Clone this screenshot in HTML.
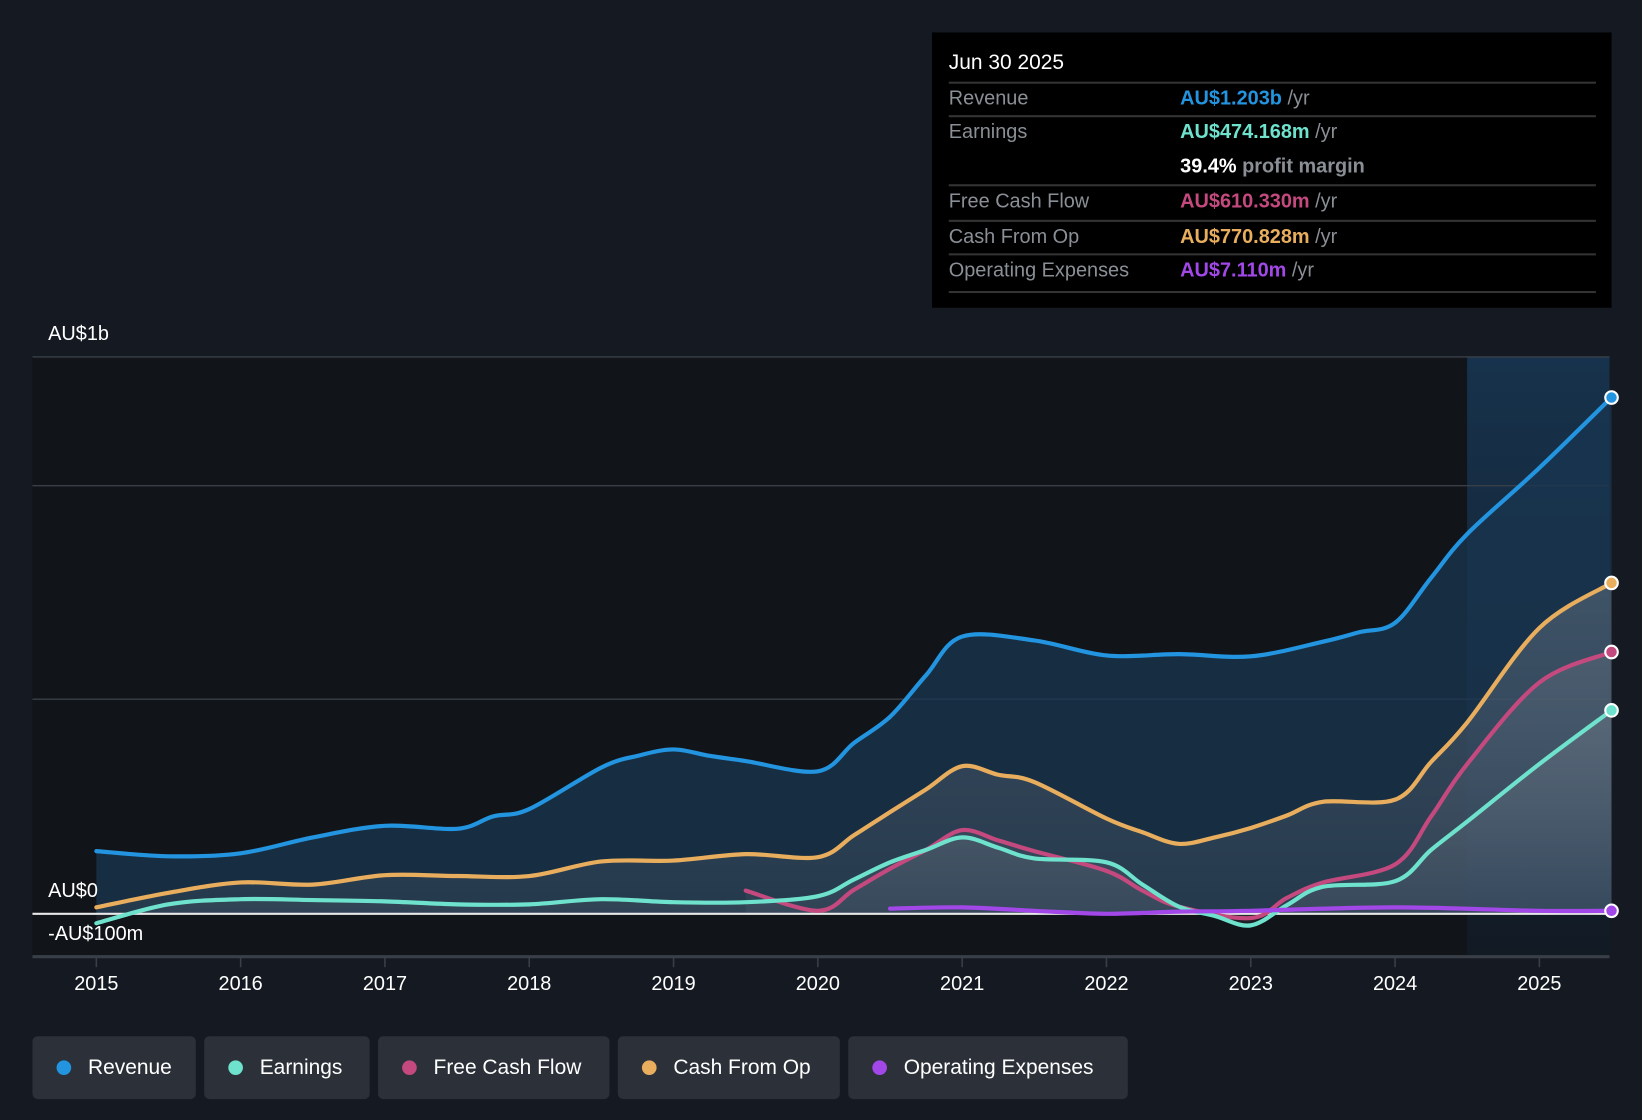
<!DOCTYPE html>
<html><head><meta charset="utf-8"><style>
html,body{margin:0;padding:0;background:#151a22;overflow:hidden}
#wrap{width:1568px;height:1070px;transform:scale(1.04719,1.04673);transform-origin:0 0;position:relative;font-family:"Liberation Sans",sans-serif}
.tt{position:absolute;left:890px;top:31px;width:649px;height:263px;background:#000}
.tt .d{position:absolute;left:16px;top:18px;color:#fff;font-size:20px}
.row{position:absolute;left:16px;width:618px;border-top:2px solid #333;font-size:19px;color:#8a8f96}
.row span.l{position:absolute;left:0}
.row span.v{position:absolute;left:221px;font-weight:bold}
.row span.u{color:#8a8f96;font-weight:normal}
.leg{position:absolute;top:990px;height:60px;background:#2b3039;border-radius:5px;color:#fff;font-size:20px;line-height:60px;box-sizing:border-box;padding-left:53px}
.leg i{position:absolute;left:23px;top:23px;width:14px;height:14px;border-radius:50%}
</style></head><body><div id="wrap">
<svg id="svg" width="1568" height="1070" style="position:absolute;left:0;top:0"></svg>
<div class="tt">
<div class="d">Jun 30 2025</div>
<div class="row" style="top:47px;height:32px"><span class="l" style="top:4px">Revenue</span><span class="v" style="top:4px;color:#2394df">AU$1.203b <span class="u">/yr</span></span></div>
<div class="row" style="top:79px;height:64px"><span class="l" style="top:4px">Earnings</span><span class="v" style="top:4px;color:#6ee2cc">AU$474.168m <span class="u">/yr</span></span><span class="v" style="top:37px;color:#fff">39.4% <span class="u" style="font-weight:bold">profit margin</span></span></div>
<div class="row" style="top:145px;height:32px"><span class="l" style="top:4px">Free Cash Flow</span><span class="v" style="top:4px;color:#c4497e">AU$610.330m <span class="u">/yr</span></span></div>
<div class="row" style="top:179px;height:32px"><span class="l" style="top:4px">Cash From Op</span><span class="v" style="top:4px;color:#e8ae5e">AU$770.828m <span class="u">/yr</span></span></div>
<div class="row" style="top:211px;height:34px;border-bottom:2px solid #333"><span class="l" style="top:4px">Operating Expenses</span><span class="v" style="top:4px;color:#a247e8">AU$7.110m <span class="u">/yr</span></span></div>
</div>
<div class="leg" style="left:31px;width:156px"><i style="background:#2394df"></i>Revenue</div>
<div class="leg" style="left:195px;width:158px"><i style="background:#6ee2cc"></i>Earnings</div>
<div class="leg" style="left:361px;width:221px"><i style="background:#c4497e"></i>Free Cash Flow</div>
<div class="leg" style="left:590px;width:212px"><i style="background:#e8ae5e"></i>Cash From Op</div>
<div class="leg" style="left:810px;width:267px"><i style="background:#a247e8"></i>Operating Expenses</div>
</div>
<script>
const revT=[2015,2015.5,2016,2016.5,2017,2017.5,2017.75,2018,2018.5,2018.75,2019,2019.25,2019.5,2020,2020.25,2020.5,2020.75,2021,2021.5,2022,2022.5,2023,2023.5,2023.75,2024,2024.25,2024.5,2025,2025.5];
const revV=[146,134,141,178,205,198,227,244,341,368,383,368,356,332,398,459,556,646,637,602,605,600,634,656,678,783,885,1039,1203];
const cfoT=[2015,2015.5,2016,2016.5,2017,2017.5,2018,2018.5,2019,2019.5,2020,2020.25,2020.5,2020.75,2021,2021.25,2021.5,2022,2022.25,2022.5,2022.75,2023,2023.25,2023.5,2024,2024.25,2024.5,2025,2025.5];
const cfoV=[15,49,73,68,90,88,88,122,124,139,132,183,237,290,344,324,307,222,190,163,178,200,229,261,266,354,446,666,771];
const earnT=[2015,2015.5,2016,2016.5,2017,2017.5,2018,2018.5,2019,2019.5,2020,2020.25,2020.5,2020.75,2021,2021.25,2021.5,2022,2022.25,2022.5,2022.75,2023,2023.25,2023.5,2024,2024.25,2024.5,2025,2025.5];
const earnV=[-22,22,34,32,29,22,22,34,27,27,41,80,120,149,178,154,129,120,68,17,-5,-27,20,63,76,149,215,349,474];
const fcfT=[2019.5,2020,2020.25,2020.5,2020.75,2021,2021.25,2021.5,2022,2022.25,2022.5,2023,2023.25,2023.5,2024,2024.25,2024.5,2025,2025.5];
const fcfV=[54,7,56,105,149,195,171,146,100,54,17,-10,37,73,115,227,349,539,610];
const opxT=[2020.5,2021,2021.5,2022,2022.5,2023,2024,2025,2025.5];
const opxV=[12,15,7,0,5,7,15,7,7];
const years=[2015,2016,2017,2018,2019,2020,2021,2022,2023,2024,2025];
const NS='http://www.w3.org/2000/svg';
const svg=document.getElementById('svg');
const X=t=>92+(t-2015)*137.8;
const Y=v=>873-v*0.41;
function el(tag,a,parent){const e=document.createElementNS(NS,tag);for(const k in a)e.setAttribute(k,a[k]);(parent||svg).appendChild(e);return e;}
const defs=el('defs',{});
defs.innerHTML='<linearGradient id="hl" x1="0" y1="0" x2="0" y2="1"><stop offset="0" stop-color="#17324c"/><stop offset="1" stop-color="#121a24"/></linearGradient><linearGradient id="gf" x1="0" y1="0" x2="0" y2="1"><stop offset="0" stop-color="#8a929c" stop-opacity="0.35"/><stop offset="1" stop-color="#8a929c" stop-opacity="0.12"/></linearGradient>';
let r=el('rect',{x:31,y:341,width:1370,height:573,fill:'#111419'});

r=el('rect',{x:1401,y:341,width:136,height:573,fill:'url(#hl)'});

[341,464,668].forEach(y=>{const g=el('line',{x1:31,x2:1537,y1:y,y2:y,stroke:'#3a3f47','stroke-width':1.3});
});
function path(T,V){const p=T.map((t,i)=>[X(t),Y(V[i])]);let d='M'+p[0][0]+','+p[0][1];
for(let i=0;i<p.length-1;i++){const p0=p[i-1]||p[i],p1=p[i],p2=p[i+1],p3=p[i+2]||p2;
const c1=[p1[0]+(p2[0]-p0[0])/6,p1[1]+(p2[1]-p0[1])/6],c2=[p2[0]-(p3[0]-p1[0])/6,p2[1]-(p3[1]-p1[1])/6];
d+=' C'+c1+' '+c2+' '+p2;}return d;}
const series=[
 {n:'revenue',T:revT,V:revV,c:'#2394df',f:'#1a3550',fo:0.75},
 {n:'cash-from-op',T:cfoT,V:cfoV,c:'#e8ae5e',f:'url(#gf)',fo:1},
 {n:'free-cash-flow',T:fcfT,V:fcfV,c:'#c4497e',f:'url(#gf)',fo:0.6},
 {n:'earnings',T:earnT,V:earnV,c:'#6ee2cc',f:'url(#gf)',fo:0.8},
 {n:'operating-expenses',T:opxT,V:opxV,c:'#a247e8',f:'none',fo:0}];
series.forEach(s=>{const d=path(s.T,s.V);
 if(s.f!=='none'){const a=el('path',{d:d+' L'+X(s.T[s.T.length-1])+','+Y(0)+' L'+X(s.T[0])+','+Y(0)+'Z',fill:s.f,'fill-opacity':s.fo});
 }});
el('line',{x1:31,x2:1537,y1:873,y2:873,stroke:'#e8e8e8','stroke-width':2});
series.forEach(s=>{const l=el('path',{d:path(s.T,s.V),fill:'none',stroke:s.c,'stroke-width':4,'stroke-linecap':'round'});
 
 const n=s.T.length-1;const c=el('circle',{cx:X(s.T[n]),cy:Y(s.V[n]),r:6,fill:s.c,stroke:'#fff','stroke-width':2});
 });
el('line',{x1:31,x2:1537,y1:914,y2:914,stroke:'#3a3f47','stroke-width':3});
years.forEach(y=>{const t=el('line',{x1:X(y),x2:X(y),y1:914,y2:924,stroke:'#3a3f47','stroke-width':1.5});
 
 const tx=el('text',{x:X(y),y:946,fill:'#fff','font-size':19,'text-anchor':'middle'});tx.textContent=y;
 });
[['AU$1b',325],['AU$0',857],['-AU$100m',898]].forEach(([s,y])=>{const t=el('text',{x:46,y:y,fill:'#fff','font-size':19});t.textContent=s;
 });
</script></body></html>
